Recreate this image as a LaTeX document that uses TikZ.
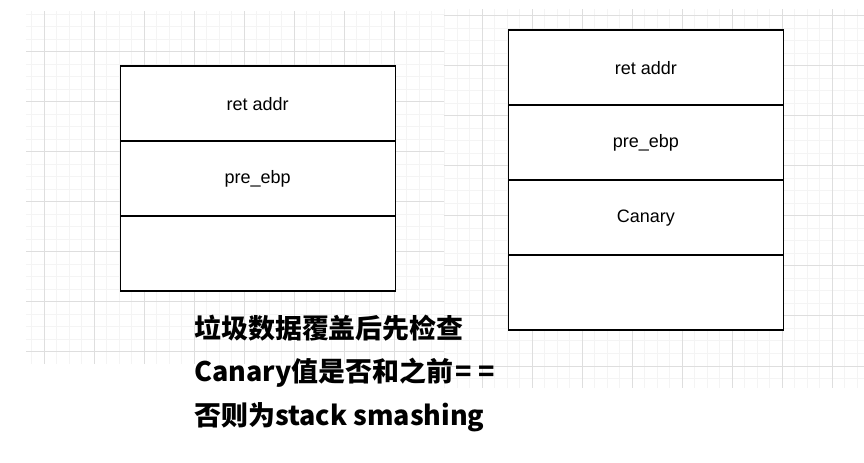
\documentclass[tikz,border=0pt]{standalone}
\usepackage{fontspec}
\setmainfont{Liberation Sans}
\newfontfamily\cjk{Noto Sans CJK SC}
\definecolor{gminor}{HTML}{F4F4F4}
\definecolor{gmajor}{HTML}{DEDEDE}
\begin{document}
\begin{tikzpicture}[x=0.75pt,y=-0.75pt,
  minorline/.style={draw=gminor, line width=0.75pt},
  majorline/.style={draw=gmajor, line width=0.75pt},
  cell/.style={draw=black, fill=white, line width=0.95pt, anchor=north west,
    minimum width=206.25pt, minimum height=56.25pt, inner sep=0pt,
    font=\fontsize{13.5}{16}\selectfont},
  note/.style={anchor=west, inner sep=0pt, font=\cjk\bfseries\fontsize{20.2}{24}\selectfont}]
\useasboundingbox[fill=white] (0,0) rectangle (864,463);
% left grid
\begin{scope}
\clip (26,12) rectangle (444,363);
\foreach \k in {-2,...,32} \draw[minorline] ({44.3+12.5*\k},0) -- ({44.3+12.5*\k},463);
\foreach \k in {-4,...,25} \draw[minorline] (0,{51.7+12.5*\k}) -- (864,{51.7+12.5*\k});
\foreach \k in {0,4,...,32} \draw[majorline] ({44.3+12.5*\k},0) -- ({44.3+12.5*\k},463);
\foreach \k in {-4,0,...,24} \draw[majorline] (0,{51.7+12.5*\k}) -- (864,{51.7+12.5*\k});
\end{scope}
% right grid
\begin{scope}
\clip (444,10) rectangle (864,387);
\foreach \k in {-4,...,31} \draw[minorline] ({482.3+12.5*\k},0) -- ({482.3+12.5*\k},463);
\foreach \k in {-1,...,30} \draw[minorline] (0,{16+12.5*\k}) -- (864,{16+12.5*\k});
\foreach \k in {-4,0,...,28} \draw[majorline] ({482.3+12.5*\k},0) -- ({482.3+12.5*\k},463);
\foreach \k in {0,4,...,28} \draw[majorline] (0,{16+12.5*\k}) -- (864,{16+12.5*\k});
\end{scope}
% left stack
\node[cell] (lret) at (119.5,65.5) {ret addr};
\node[cell] (lebp) at (119.5,140.5) {pre\_ebp};
\node[cell] (lbuf) at (119.5,215.5) {};
% right stack
\node[cell] (rret) at (507.8,29.5) {ret addr};
\node[cell] (rebp) at (507.8,104.5) {pre\_ebp};
\node[cell] (rcan) at (507.8,179.5) {Canary};
\node[cell] (rbuf) at (507.8,254.5) {};
% note
\node[note] (t1) at (194,328) {垃圾数据覆盖后先检查};
\node[note] (t2) at (194,373) {Canary值是否和之前\kern2pt=\kern5pt=};
\node[note] (t3) at (194,417) {否则为stack smashing};
\end{tikzpicture}
\end{document}
